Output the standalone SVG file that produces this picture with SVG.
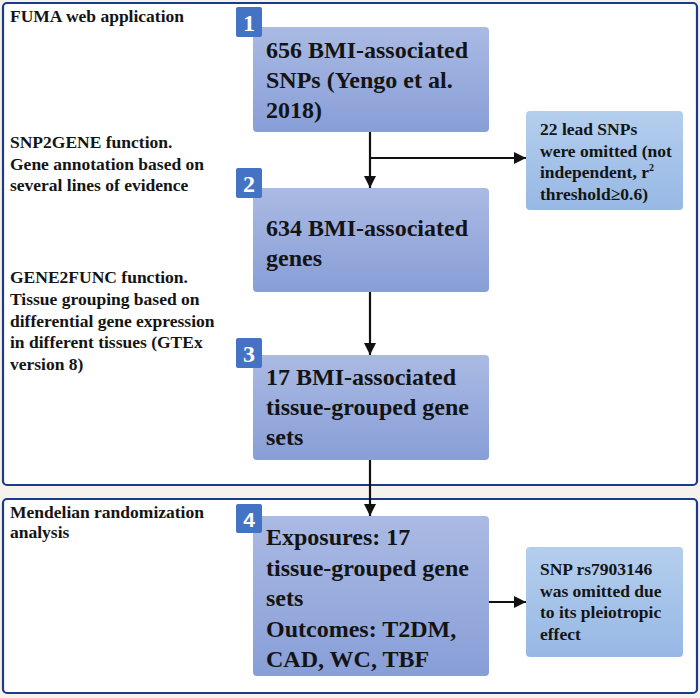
<svg xmlns="http://www.w3.org/2000/svg" width="700" height="698" viewBox="0 0 700 698">
<defs>
<linearGradient id="gMain" x1="0" y1="0" x2="0" y2="1">
<stop offset="0" stop-color="#aabae3"/>
<stop offset="1" stop-color="#889ed7"/>
</linearGradient>
<linearGradient id="gSide" x1="0" y1="0" x2="0" y2="1">
<stop offset="0" stop-color="#b4ceed"/>
<stop offset="1" stop-color="#97b8e5"/>
</linearGradient>
<marker id="ah" markerWidth="12" markerHeight="12" refX="12" refY="6" orient="auto" markerUnits="userSpaceOnUse">
<path d="M0,0 L12,6 L0,12 Z" fill="#111"/>
</marker>
<style>
.frame{fill:#ffffff;stroke:#1c3b8c;stroke-width:2.2}
.main{fill:url(#gMain)}
.side{fill:url(#gSide)}
.badge{fill:#4472c4}
.bn{font-family:"Liberation Serif",serif;font-weight:bold;font-size:24px;fill:#ffffff;text-anchor:middle}
.bns{font-family:"Liberation Sans",sans-serif;font-weight:bold;font-size:21px;fill:#ffffff;text-anchor:middle}
.mt{font-family:"Liberation Serif",serif;font-weight:bold;font-size:24px;fill:#141414}
.st{font-family:"Liberation Serif",serif;font-weight:bold;font-size:17.5px;fill:#141414}
.lt{font-family:"Liberation Serif",serif;font-weight:bold;font-size:17.5px;fill:#141414}
.conn{stroke:#111;stroke-width:2.2;fill:none}
</style>
</defs>
<rect x="0" y="0" width="700" height="698" fill="#f5f3ec"/>
<g id="frame-fuma">
<rect class="frame" x="3" y="3" width="694" height="482" rx="4"/>
<text class="lt" x="10" y="22">FUMA web application</text>
<text class="lt"><tspan x="10" y="148">SNP2GENE function.</tspan><tspan x="10" y="169.5">Gene annotation based on</tspan><tspan x="10" y="191">several lines of evidence</tspan></text>
<text class="lt"><tspan x="10" y="283">GENE2FUNC function.</tspan><tspan x="10" y="305">Tissue grouping based on</tspan><tspan x="10" y="327">differential gene expression</tspan><tspan x="10" y="348">in different tissues (GTEx</tspan><tspan x="10" y="370">version 8)</tspan></text>
</g>
<g id="frame-mr">
<rect class="frame" x="3" y="499" width="694" height="194" rx="4"/>
<text class="lt"><tspan x="10" y="518">Mendelian randomization</tspan><tspan x="10" y="538">analysis</tspan></text>
</g>
<g id="connectors">
<line class="conn" x1="370" y1="132" x2="370" y2="188" marker-end="url(#ah)"/>
<line class="conn" x1="370" y1="158" x2="526" y2="158" marker-end="url(#ah)"/>
<line class="conn" x1="370" y1="292" x2="370" y2="355" marker-end="url(#ah)"/>
<line class="conn" x1="370" y1="460" x2="370" y2="516" marker-end="url(#ah)"/>
<line class="conn" x1="489" y1="602" x2="526" y2="602" marker-end="url(#ah)"/>
</g>
<g id="node1">
<rect class="main" x="253" y="27" width="236" height="105" rx="4"/>
<rect class="badge" x="236" y="7" width="26" height="30" rx="2"/>
<text class="bn" x="249" y="31">1</text>
<text class="mt"><tspan x="266" y="58">656 BMI-associated</tspan><tspan x="266" y="88">SNPs (Yengo et al.</tspan><tspan x="266" y="118">2018)</tspan></text>
</g>
<g id="node-omit1">
<rect class="side" x="526" y="111" width="157" height="99" rx="4"/>
<text class="st"><tspan x="540" y="135">22 lead SNPs</tspan><tspan x="540" y="157">were omitted (not</tspan><tspan x="540" y="178">independent, r<tspan font-size="10" dy="-7">2</tspan></tspan><tspan x="540" y="200">threshold≥0.6)</tspan></text>
</g>
<g id="node2">
<rect class="main" x="253" y="188" width="236" height="104" rx="4"/>
<rect class="badge" x="236" y="168" width="26" height="30" rx="2"/>
<text class="bn" x="249" y="192">2</text>
<text class="mt"><tspan x="266" y="236">634 BMI-associated</tspan><tspan x="266" y="266">genes</tspan></text>
</g>
<g id="node3">
<rect class="main" x="253" y="355" width="236" height="105" rx="4"/>
<rect class="badge" x="236" y="338" width="26" height="30" rx="2"/>
<text class="bn" x="249" y="362">3</text>
<text class="mt"><tspan x="266" y="385">17 BMI-associated</tspan><tspan x="266" y="415">tissue-grouped gene</tspan><tspan x="266" y="445">sets</tspan></text>
</g>
<g id="node4">
<rect class="main" x="253" y="516" width="236" height="160" rx="4"/>
<rect class="badge" x="236" y="504" width="26" height="29" rx="2"/>
<text class="bns" x="249" y="527">4</text>
<text class="mt"><tspan x="266" y="545">Exposures: 17</tspan><tspan x="266" y="576">tissue-grouped gene</tspan><tspan x="266" y="606">sets</tspan><tspan x="266" y="637">Outcomes: T2DM,</tspan><tspan x="266" y="667">CAD, WC, TBF</tspan></text>
</g>
<g id="node-omit2">
<rect class="side" x="526" y="547" width="157" height="110" rx="4"/>
<text class="st"><tspan x="540" y="575">SNP rs7903146</tspan><tspan x="540" y="597">was omitted due</tspan><tspan x="540" y="618">to its pleiotropic</tspan><tspan x="540" y="640">effect</tspan></text>
</g>
</svg>
